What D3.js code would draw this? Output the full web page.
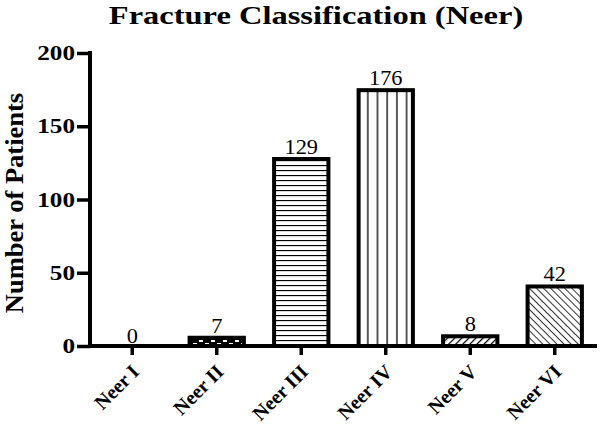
<!DOCTYPE html>
<html><head><meta charset="utf-8">
<script src="https://cdn.jsdelivr.net/npm/d3@7"></script>
<style>body{margin:0;background:#fff}</style>
</head><body>
<svg id="c" width="600" height="430"></svg>
<script>
const categories = ["Neer I","Neer II","Neer III","Neer IV","Neer V","Neer VI"];
const values = [0,7,129,176,8,42];
const patterns = ["none","brick","hlines","vlines","fdiag","bdiag"];
const yTicks = [0,50,100,150,200];

const svg = d3.select("#c");
const m = {l:90, r:3, t:53, b:84};
const W = 600, H = 430;
const x = d3.scaleBand().domain(categories).range([m.l, W-m.r]).paddingInner(0.31).paddingOuter(0.155);
const xt = d3.scaleBand().domain(categories).range([m.l, W-m.r]);
const y = d3.scaleLinear().domain([0,200]).range([H-m.b, m.t]);
const font = "'Liberation Serif','Times New Roman',serif";

const defs = svg.append("defs");
// brick
let p = defs.append("pattern").attr("id","brick").attr("patternUnits","userSpaceOnUse").attr("width",12).attr("height",6);
p.append("rect").attr("width",12).attr("height",6).attr("fill","#000");
p.append("rect").attr("x",1).attr("y",1).attr("width",4).attr("height",2).attr("fill","#fff");
p.append("rect").attr("x",7).attr("y",4).attr("width",4).attr("height",2).attr("fill","#fff");
// hlines
p = defs.append("pattern").attr("id","hlines").attr("patternUnits","userSpaceOnUse").attr("width",10).attr("height",5);
p.append("rect").attr("width",10).attr("height",5).attr("fill","#fff");
p.append("line").attr("x1",0).attr("x2",10).attr("y1",0.5).attr("y2",0.5).attr("stroke","#000").attr("stroke-width",1.3);
// vlines
p = defs.append("pattern").attr("id","vlines").attr("patternUnits","userSpaceOnUse").attr("width",9.7).attr("height",10).attr("x",x("Neer IV")+0.5);
p.append("rect").attr("width",9.7).attr("height",10).attr("fill","#fff");
p.append("line").attr("y1",0).attr("y2",10).attr("x1",1).attr("x2",1).attr("stroke","#000").attr("stroke-width",1.3);
// fdiag
p = defs.append("pattern").attr("id","fdiag").attr("patternUnits","userSpaceOnUse").attr("width",5).attr("height",5).attr("patternTransform","rotate(45)");
p.append("rect").attr("width",5).attr("height",5).attr("fill","#fff");
p.append("line").attr("x1",0).attr("x2",0).attr("y1",0).attr("y2",5).attr("stroke","#000").attr("stroke-width",2.4);
// bdiag
p = defs.append("pattern").attr("id","bdiag").attr("patternUnits","userSpaceOnUse").attr("width",5).attr("height",5).attr("patternTransform","rotate(-45)");
p.append("rect").attr("width",5).attr("height",5).attr("fill","#fff");
p.append("line").attr("x1",0).attr("x2",0).attr("y1",0).attr("y2",5).attr("stroke","#000").attr("stroke-width",1.6);

const data = categories.map((c,i)=>({c, v:values[i], p:patterns[i]}));

// bars
svg.append("g").selectAll("rect").data(data.filter(d=>d.v>0)).join("rect")
  .attr("x", d=>x(d.c)+2).attr("width", x.bandwidth()-4)
  .attr("y", d=>y(d.v)+2).attr("height", d=>y(0)-y(d.v)-2)
  .attr("fill", d=>`url(#${d.p})`).attr("stroke","#000").attr("stroke-width",4);

// value labels
svg.append("g").selectAll("text").data(data).join("text")
  .attr("transform", d=>`translate(${xt(d.c)+xt.bandwidth()/2},${y(d.v)-3}) scale(1.12,1)`)
  .attr("text-anchor","middle").attr("font-family",font).attr("font-size",20)
  .text(d=>d.v);

// axes
const gx = svg.append("g").attr("transform",`translate(0,${y(0)})`)
  .call(d3.axisBottom(xt).tickSize(9).tickSizeOuter(0).tickPadding(0));
gx.select(".domain").attr("stroke-width",4).attr("d",`M${m.l-2},0H${W-m.r}`);
gx.selectAll(".tick line").attr("stroke-width",3.5);
gx.selectAll(".tick text").attr("font-family",font).attr("font-size",20).attr("font-weight","bold")
  .attr("text-anchor","end").attr("x",0).attr("y",0).attr("dy",0)
  .attr("transform","translate(8,27) rotate(-45)");

const gy = svg.append("g").attr("transform",`translate(${m.l},0)`)
  .call(d3.axisLeft(y).tickValues(yTicks).tickSize(13).tickSizeOuter(0).tickPadding(0));
gy.select(".domain").attr("stroke-width",4).attr("d",`M0,${y(0)+2}V${y(200)-2}`);
gy.selectAll(".tick line").attr("stroke-width",3.5);
gy.selectAll(".tick text").attr("font-family",font).attr("font-size",21).attr("font-weight","bold")
  .attr("x",0).attr("transform","translate(-15,0) scale(1.2,1)");

// title
svg.append("text").attr("transform","translate(316,23.5) scale(1.25,1)").attr("text-anchor","middle")
  .attr("font-family",font).attr("font-size",26).attr("font-weight","bold").text("Fracture Classification (Neer)");
// y label
svg.append("text").attr("transform",`translate(23,203) rotate(-90) scale(1.04,1)`).attr("text-anchor","middle")
  .attr("font-family",font).attr("font-size",25.5).attr("font-weight","bold").text("Number of Patients");
</script>
</body></html>
